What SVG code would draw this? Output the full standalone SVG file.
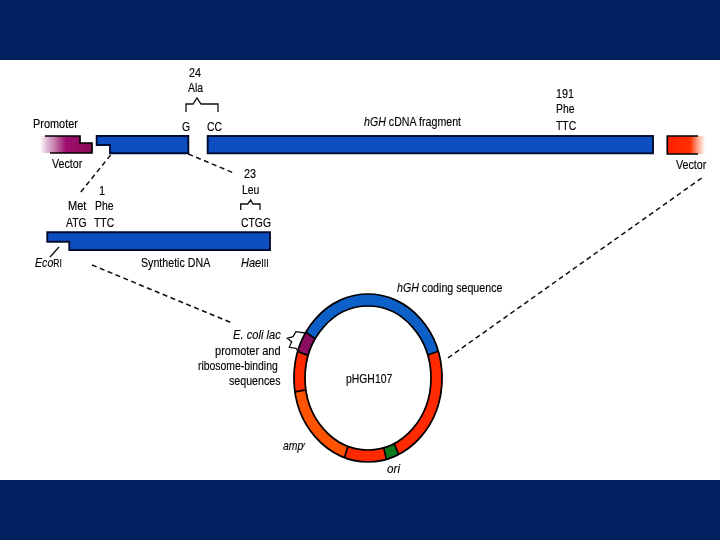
<svg xmlns="http://www.w3.org/2000/svg" width="720" height="540" viewBox="0 0 720 540">
<style>
text{font-family:"Liberation Sans",Arial,sans-serif;font-size:13px;fill:#000;stroke:#000;stroke-width:.15}
.i{font-style:italic}
.sm{font-size:10.500px}
.bar{fill:#0a50c0;stroke:#050a30;stroke-width:1.9}
.dash{fill:none;stroke:#111;stroke-width:1.5;stroke-dasharray:5 3.500}
.thin{fill:none;stroke:#111;stroke-width:1.3}
.arc{fill:none;stroke-width:12}
.edge{fill:none;stroke:#000;stroke-width:1.7}
</style>
<defs>
<linearGradient id="pg" x1="0" x2="1" y1="0" y2="0"><stop offset="0" stop-color="#8a0f60" stop-opacity="0"/><stop offset=".5" stop-color="#a01070"/><stop offset="1" stop-color="#8a0f55"/></linearGradient>
<linearGradient id="rg" x1="0" x2="1" y1="0" y2="0"><stop offset="0" stop-color="#ff2000"/><stop offset=".6" stop-color="#ff3000"/><stop offset="1" stop-color="#ff5a20" stop-opacity="0"/></linearGradient>
<filter id="soft" x="-2%" y="-2%" width="104%" height="104%"><feGaussianBlur stdDeviation="0.45"/></filter>
</defs>
<rect width="720" height="540" fill="#fff"/>
<rect id="band-top" width="720" height="60" fill="#002060"/>
<rect id="band-bottom" y="480" width="720" height="60" fill="#002060"/>
<g filter="url(#soft)">
<g id="connectors">
<path class="dash" d="M110.700 155L80 193"/>
<path class="dash" d="M188.300 154L233 172.700"/>
<path class="dash" d="M92 265L232 323"/>
<path class="dash" d="M701.700 178L446 359.300"/>
<path class="thin" d="M59 247L50 257"/>
<path class="thin" d="M186 112V104H193L197 98L201 104H218V112"/>
<path class="thin" d="M240.700 210V204H247.700L250.700 200L253 204H260V210"/>
<path class="thin" d="M305 333L296 331.700L293 336.700L287.300 338.300L291.700 341.700L289.300 347.300L296 348.300L299.300 352.700"/>
</g>
<g id="promoter-vector">
<path d="M40 136H80V143H92V153H40Z" fill="url(#pg)"/>
<path class="edge" d="M45 136H80V143H92V153H50"/>
<text transform="translate(33 128) scale(.84 1)">Promoter</text>
<text transform="translate(52 168) scale(.825 1)">Vector</text>
</g>
<g id="hgh-left-fragment">
<path class="bar" d="M96.700 136H188.300V153.300H110V145H96.700Z"/>
<text transform="translate(182 131) scale(.8 1)">G</text>
<text transform="translate(207 131) scale(.8 1)">CC</text>
<text transform="translate(189 77) scale(.83 1)">24</text>
<text transform="translate(188 92) scale(.8 1)">Ala</text>
</g>
<g id="hgh-cdna-fragment">
<rect class="bar" x="207.700" y="136" width="445.300" height="17.300"/>
<text transform="translate(364 126) scale(.82 1)"><tspan class="i">hGH</tspan> cDNA fragment</text>
<text transform="translate(556 98) scale(.83 1)">191</text>
<text transform="translate(556 113) scale(.8 1)">Phe</text>
<text transform="translate(556 130) scale(.8 1)">TTC</text>
</g>
<g id="vector-right">
<rect x="667.300" y="136" width="38" height="18" fill="url(#rg)"/>
<path class="edge" d="M698 136H667.300V154H698"/>
<text transform="translate(676 169) scale(.825 1)">Vector</text>
</g>
<g id="synthetic-dna">
<path class="bar" d="M47.300 232.300H270V250H69.300V241.700H47.300Z"/>
<text transform="translate(99 195) scale(.85 1)">1</text>
<text transform="translate(68 210) scale(.85 1)">Met</text>
<text transform="translate(95 210) scale(.8 1)">Phe</text>
<text transform="translate(66 227) scale(.8 1)">ATG</text>
<text transform="translate(94 227) scale(.8 1)">TTC</text>
<text transform="translate(244 178) scale(.83 1)">23</text>
<text transform="translate(242 194) scale(.8 1)">Leu</text>
<text transform="translate(241 227) scale(.8 1)">CTGG</text>
<text transform="translate(35 267) scale(.82 1)"><tspan class="i">Eco</tspan><tspan class="sm">RI</tspan></text>
<text transform="translate(141 267) scale(.82 1)">Synthetic DNA</text>
<text transform="translate(241 267) scale(.85 1)"><tspan class="i">Hae</tspan><tspan class="sm">III</tspan></text>
</g>
<g id="plasmid">
<path class="arc" stroke="#1060c8" d="M310.500 335.500A68.500 78 0 0 1 432.900 353.100"/>
<path class="arc" stroke="#ff2a00" d="M432.900 353.100A68.500 78 0 0 1 396.400 449"/>
<path class="arc" stroke="#0f7a1f" d="M396.400 449A68.500 78 0 0 1 385 453.600"/>
<path class="arc" stroke="#ff2a00" d="M385 453.600A68.500 78 0 0 1 346.300 452"/>
<path class="arc" stroke="#ff5200" d="M346.300 452A68.500 78 0 0 1 300.500 390.900"/>
<path class="arc" stroke="#ff2a00" d="M300.500 390.900A68.500 78 0 0 1 303 353.500"/>
<path class="arc" stroke="#8a1060" d="M303 353.500A68.500 78 0 0 1 310.500 335.500"/>
<ellipse class="edge" cx="368" cy="378" rx="74" ry="84"/>
<ellipse class="edge" cx="368" cy="378" rx="63" ry="72"/>
<path class="edge" d="M427.700 355L438.200 351.200M315.100 338.800L305.900 332.200M308.200 355.400L297.800 351.600M305.900 389.900L295 391.900M348 446.300L344.500 457.600M383.700 447.800L386.400 459.400M394.100 443.500L398.700 454.400"/>
<text transform="translate(346 383) scale(.8 1)">pHGH107</text>
<text transform="translate(397 292) scale(.82 1)"><tspan class="i">hGH</tspan> coding sequence</text>
<text transform="translate(233 339) scale(.86 1)" class="i">E. coli lac</text>
<text transform="translate(215 355) scale(.85 1)">promoter and</text>
<text transform="translate(198 370) scale(.8 1)">ribosome-binding</text>
<text transform="translate(229 385) scale(.82 1)">sequences</text>
<text transform="translate(283 450) scale(.8 1)" class="i">amp<tspan font-size="8" dy="-3">r</tspan></text>
<text transform="translate(387 473) scale(.9 1)" class="i">ori</text>
</g>
</g>
</svg>
